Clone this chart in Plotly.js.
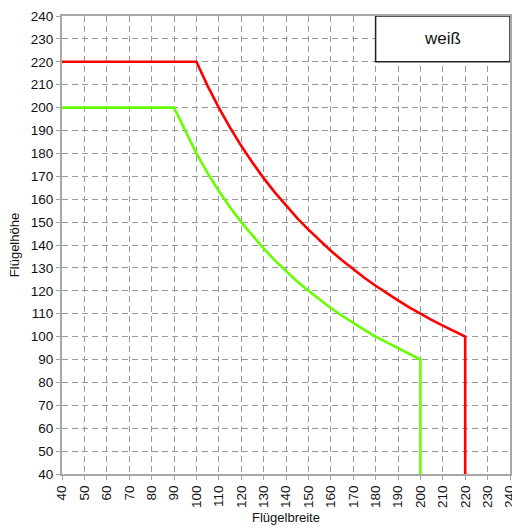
<!DOCTYPE html>
<html><head><meta charset="utf-8">
<script src="https://cdn.plot.ly/plotly-3.0.1.min.js"></script>
<style>html,body{margin:0;padding:0;background:#fff}</style>
</head><body>
<div id="chart" style="width:512px;height:529px"></div>
<script>
const redX = [40, 100, 105, 110, 115, 120, 125, 130, 135, 140, 145, 150, 155, 160, 165, 170, 175, 180, 185, 190, 195, 200, 205, 210, 215, 220, 220];
const redY = [220, 220, 209.5, 200, 191.3, 183.3, 176, 169.2, 163, 157.1, 151.7, 146.7, 141.9, 137.5, 133.3, 129.4, 125.7, 122.2, 118.9, 115.8, 112.8, 110, 107.3, 104.8, 102.3, 100, 40];
const greenX = [40, 90, 100, 105, 110, 115, 120, 125, 130, 135, 140, 145, 150, 155, 160, 165, 170, 175, 180, 200, 200];
const greenY = [200, 200, 180, 171.4, 163.6, 156.5, 150, 144, 138.5, 133.3, 128.6, 124.1, 120, 116.1, 112.5, 109.1, 105.9, 102.9, 100, 90, 40];
const tickVals = [40,50,60,70,80,90,100,110,120,130,140,150,160,170,180,190,200,210,220,230,240];
const legendLabel = 'weiß';
const xTitle = 'Flügelbreite';
const yTitle = 'Flügelhöhe';

const font = 'Liberation Sans, Arial, sans-serif';
const axisCommon = {
  range: [40, 240], tickvals: tickVals, ticktext: tickVals.map(String),
  showgrid: true, gridcolor: '#9a9a9a', griddash: '6px,4px', gridwidth: 1,
  showline: true, linecolor: '#a8a8a8', linewidth: 2, mirror: true,
  ticks: 'outside', ticklen: 4, tickcolor: '#a0a0a0',
  tickfont: {family: font, size: 13.5, color: '#111'},
  ticklabeloverflow: 'allow',
  zeroline: false, fixedrange: true
};
const data = [
  {x: redX, y: redY, mode: 'lines', line: {color: '#ff0000', width: 2.6}, showlegend: false, hoverinfo: 'skip'},
  {x: greenX, y: greenY, mode: 'lines', line: {color: '#66ff00', width: 2.6}, showlegend: false, hoverinfo: 'skip'}
];
const layout = {
  width: 512, height: 529,
  margin: {l: 62, r: 2, t: 16, b: 55},
  paper_bgcolor: '#fff', plot_bgcolor: '#fff',
  xaxis: Object.assign({}, axisCommon, {tickangle: -90,
    title: {text: xTitle, font: {family: font, size: 13, color: '#111'}, standoff: 6}}),
  yaxis: Object.assign({}, axisCommon, {
    title: {text: yTitle, font: {family: font, size: 13, color: '#111'}, standoff: 8}}),
  shapes: [{type: 'rect', xref: 'x', yref: 'y', x0: 180, x1: 240, y0: 220, y1: 240,
    fillcolor: '#fff', line: {color: '#222', width: 1.5}, layer: 'above'}],
  annotations: [{xref: 'x', yref: 'y', x: 210, y: 230, text: legendLabel, showarrow: false,
    font: {family: font, size: 17, color: '#111'}}]
};
Plotly.newPlot('chart', data, layout, {staticPlot: true});
</script>
</body></html>
